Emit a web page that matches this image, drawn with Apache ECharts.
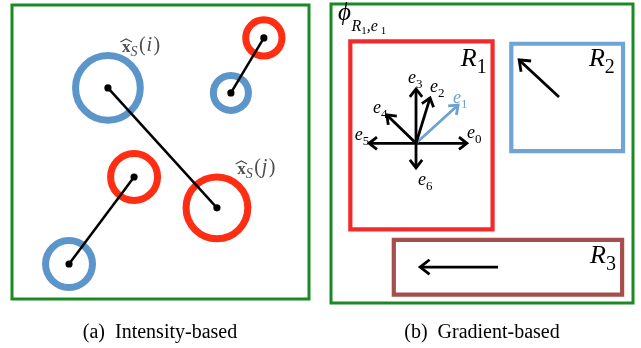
<!DOCTYPE html>
<html>
<head>
<meta charset="utf-8">
<script src="https://cdn.jsdelivr.net/npm/echarts@6/dist/echarts.min.js"></script>
<style>
  html, body { margin: 0; padding: 0; background: #fff; }
  #chart { width: 641px; height: 348px; }
</style>
</head>
<body>
<div id="chart"></div>
<script>
// ---------- panel (a): intensity-based point pairs (panel units 0-100, y downwards) ----------
const ringCenters = [[32.3, 28.2], [73.7, 29.9], [84.8, 11.2], [41.1, 58.5], [69.0, 69.0], [19.2, 88.1]];
const ringRadii   = [10.9, 5.9, 6.1, 7.9, 10.4, 7.9];
const ringKinds   = ['blue', 'blue', 'red', 'red', 'red', 'blue'];
const pointPairs  = [[0, 4], [3, 5], [1, 2]];          // indices into ringCenters
const pointLabelPos = [[37.0, 16.3], [75.8, 57.8]];    // left / baseline of each label
const pointLabelIdx = ['i', 'j'];

// ---------- panel (b): gradient-based regions ----------
const regionNames   = ['1', '2', '3'];
const regionBoxes   = [[6.4, 12.5, 53.5, 75.4], [59.7, 13.3, 96.7, 49.2], [20.8, 78.9, 96.4, 97.2]];
const regionKinds   = ['red', 'blue', 'brown'];
const regionLabelPos = [[43.0, 21.4], [85.4, 21.4], [85.8, 87.3]];
const binOrigin     = [28.15, 46.6];
const binTips       = [[45.0, 46.6], [42.1, 33.8], [32.8, 31.4], [28.15, 28.4], [18.5, 37.1], [12.6, 46.6], [28.15, 54.8]];
const binLabelPos   = [[45.0, 45.2], [40.4, 33.5], [32.8, 29.8], [25.5, 26.8], [13.9, 36.9], [7.9, 45.9], [28.8, 60.9]];
const selectedBin   = 1;
const regionGradients = [[75.5, 31.1, 62.3, 18.7], [55.3, 88.0, 29.5, 88.0]];   // dominant gradient of R2, R3
const featureLabelPos = [[2.3, 6.0]];

const captions = ['(a)  Intensity-based', '(b)  Gradient-based'];

// ---------- styling ----------
const SERIF = '"Liberation Serif","DejaVu Serif",serif';
const COLORS = {
  green: '#1b8a24', blue: '#5b95c9', red: '#ff2d12',
  boxRed: '#f22a2b', boxBlue: '#6ea4d6', brown: '#a44f4c',
  bin: '#000', binSel: '#6ea0d2', gray: '#4d4d4d'
};
const BOX_COLORS = { red: COLORS.boxRed, blue: COLORS.boxBlue, brown: COLORS.brown };

const mctx = document.createElement('canvas').getContext('2d');
function textWidth(str, font) { mctx.font = font; return mctx.measureText(str).width; }

// lay out a run of text pieces left-to-right from (x, baseline)
function runElements(x, base, pieces, color) {
  const els = [];
  let cx = x;
  pieces.forEach(p => {
    const st = p.it ? 'italic' : 'normal';
    const wt = p.b ? 'bold' : 'normal';
    const font = st + ' ' + wt + ' ' + p.fs + 'px ' + SERIF;
    cx += p.dx || 0;
    els.push({
      type: 'text', x: cx, y: base + (p.dy || 0) - 0.34 * p.fs,
      style: {
        text: p.t, fill: p.c || color, fontSize: p.fs, fontFamily: SERIF,
        fontStyle: st, fontWeight: wt, align: 'left', verticalAlign: 'middle'
      }
    });
    cx += textWidth(p.t, font) + (p.after || 0);
  });
  return els;
}

function arrowElements(p0, p1, color, lw, head) {
  const a = Math.atan2(p1[1] - p0[1], p1[0] - p0[0]);
  const th = Math.PI * 0.21;
  const l = [p1[0] - head * Math.cos(a - th), p1[1] - head * Math.sin(a - th)];
  const r = [p1[0] - head * Math.cos(a + th), p1[1] - head * Math.sin(a + th)];
  return [
    { type: 'line', shape: { x1: p0[0], y1: p0[1], x2: p1[0], y2: p1[1] },
      style: { stroke: color, lineWidth: lw } },
    { type: 'polyline', shape: { points: [l, p1, r] },
      style: { stroke: color, lineWidth: lw, fill: 'none', lineJoin: 'miter' } }
  ];
}

const chart = echarts.init(document.getElementById('chart'), null, { renderer: 'canvas' });

const panelAxis = idx => ({ type: 'value', gridIndex: idx, min: 0, max: 100, show: false });
const panelYAxis = idx => ({ type: 'value', gridIndex: idx, min: 0, max: 100, inverse: true, show: false });

const common = { type: 'custom', coordinateSystem: 'cartesian2d', clip: false, silent: true, animation: false };

chart.setOption({
  animation: false,
  grid: [
    { left: 12, top: 5, width: 297, height: 294, show: true, borderColor: COLORS.green, borderWidth: 3, backgroundColor: 'transparent' },
    { left: 331, top: 4, width: 302, height: 299, show: true, borderColor: COLORS.green, borderWidth: 3, backgroundColor: 'transparent' }
  ],
  xAxis: [panelAxis(0), panelAxis(1)],
  yAxis: [panelYAxis(0), panelYAxis(1)],
  graphic: captions.map((t, i) => ({
    type: 'text', x: i === 0 ? 160 : 482, y: 340 - 0.34 * 20,
    style: { text: t, fill: '#000', fontSize: 20, fontFamily: SERIF, align: 'center', verticalAlign: 'middle' }
  })),
  series: [
    // rings
    Object.assign({}, common, {
      xAxisIndex: 0, yAxisIndex: 0,
      data: ringCenters.map((c, i) => [c[0], c[1], ringRadii[i], i]),
      encode: { x: 0, y: 1 },
      renderItem: (params, api) => {
        const p = api.coord([api.value(0), api.value(1)]);
        const r = api.size([api.value(2), 0])[0];
        return { type: 'circle', shape: { cx: p[0], cy: p[1], r: r },
          style: { fill: 'none', stroke: COLORS[ringKinds[api.value(3)]], lineWidth: 7 } };
      }
    }),
    // matched pairs
    Object.assign({}, common, {
      xAxisIndex: 0, yAxisIndex: 0,
      data: pointPairs.map(([a, b]) => [ringCenters[a][0], ringCenters[a][1], ringCenters[b][0], ringCenters[b][1]]),
      encode: { x: [0, 2], y: [1, 3] },
      renderItem: (params, api) => {
        const p0 = api.coord([api.value(0), api.value(1)]);
        const p1 = api.coord([api.value(2), api.value(3)]);
        return { type: 'group', children: [
          { type: 'line', shape: { x1: p0[0], y1: p0[1], x2: p1[0], y2: p1[1] }, style: { stroke: '#000', lineWidth: 2.5 } },
          { type: 'circle', shape: { cx: p0[0], cy: p0[1], r: 3.6 }, style: { fill: '#000' } },
          { type: 'circle', shape: { cx: p1[0], cy: p1[1], r: 3.6 }, style: { fill: '#000' } }
        ] };
      }
    }),
    // x̂_S(i), x̂_S(j)
    Object.assign({}, common, {
      xAxisIndex: 0, yAxisIndex: 0,
      data: pointLabelPos,
      encode: { x: 0, y: 1 },
      renderItem: (params, api) => {
        const p = api.coord([api.value(0), api.value(1)]);
        const xw = textWidth('x', 'normal bold 17px ' + SERIF);
        const hatL = p[0] - 1.5, hatR = p[0] + xw + 1.5;
        const els = runElements(p[0], p[1], [
          { t: 'x', fs: 17, b: true },
          { t: 'S', fs: 14, it: true, dy: 4, after: 1.5 },
          { t: '(', fs: 20, after: 1 },
          { t: pointLabelIdx[params.dataIndex], fs: 20, it: true, after: 1.5 },
          { t: ')', fs: 20 }
        ], COLORS.gray);
        els.push({ type: 'polyline',
          shape: { points: [[hatL, p[1] - 11], [(hatL + hatR) / 2, p[1] - 14], [hatR, p[1] - 11]] },
          style: { stroke: COLORS.gray, lineWidth: 1.1, fill: 'none' } });
        return { type: 'group', children: els };
      }
    }),
    // region boxes
    Object.assign({}, common, {
      xAxisIndex: 1, yAxisIndex: 1,
      data: regionBoxes.map((b, i) => [b[0], b[1], b[2], b[3], i]),
      encode: { x: [0, 2], y: [1, 3] },
      renderItem: (params, api) => {
        const a = api.coord([api.value(0), api.value(1)]);
        const b = api.coord([api.value(2), api.value(3)]);
        return { type: 'rect', shape: { x: a[0], y: a[1], width: b[0] - a[0], height: b[1] - a[1] },
          style: { fill: 'none', stroke: BOX_COLORS[regionKinds[api.value(4)]], lineWidth: 4.2 } };
      }
    }),
    // orientation bins in R1
    Object.assign({}, common, {
      xAxisIndex: 1, yAxisIndex: 1,
      data: binTips.map(t => [binOrigin[0], binOrigin[1], t[0], t[1]]),
      encode: { x: [0, 2], y: [1, 3] },
      renderItem: (params, api) => {
        const p0 = api.coord([api.value(0), api.value(1)]);
        const p1 = api.coord([api.value(2), api.value(3)]);
        const col = params.dataIndex === selectedBin ? COLORS.binSel : COLORS.bin;
        return { type: 'group', children: arrowElements(p0, p1, col, 2.8, 10) };
      }
    }),
    // dominant gradients of R2, R3
    Object.assign({}, common, {
      xAxisIndex: 1, yAxisIndex: 1,
      data: regionGradients,
      encode: { x: [0, 2], y: [1, 3] },
      renderItem: (params, api) => {
        const p0 = api.coord([api.value(0), api.value(1)]);
        const p1 = api.coord([api.value(2), api.value(3)]);
        return { type: 'group', children: arrowElements(p0, p1, '#000', 2.8, 12) };
      }
    }),
    // e_k labels
    Object.assign({}, common, {
      xAxisIndex: 1, yAxisIndex: 1,
      data: binLabelPos,
      encode: { x: 0, y: 1 },
      renderItem: (params, api) => {
        const p = api.coord([api.value(0), api.value(1)]);
        const col = params.dataIndex === selectedBin ? COLORS.binSel : '#000';
        return { type: 'group', children: runElements(p[0], p[1], [
          { t: 'e', fs: 18, it: true },
          { t: String(params.dataIndex), fs: 13, dy: 4.5 }
        ], col) };
      }
    }),
    // R_k labels
    Object.assign({}, common, {
      xAxisIndex: 1, yAxisIndex: 1,
      data: regionLabelPos,
      encode: { x: 0, y: 1 },
      renderItem: (params, api) => {
        const p = api.coord([api.value(0), api.value(1)]);
        return { type: 'group', children: runElements(p[0], p[1], [
          { t: 'R', fs: 26, it: true },
          { t: regionNames[params.dataIndex], fs: 20, dy: 7 }
        ], '#000') };
      }
    }),
    // feature label ϕ_{R1,e1}
    Object.assign({}, common, {
      xAxisIndex: 1, yAxisIndex: 1,
      data: featureLabelPos,
      encode: { x: 0, y: 1 },
      renderItem: (params, api) => {
        const p = api.coord([api.value(0), api.value(1)]);
        return { type: 'group', children: runElements(p[0], p[1], [
          { t: 'ϕ', fs: 25, it: true, after: 0.5 },
          { t: 'R', fs: 16, it: true, dy: 10 },
          { t: '1', fs: 11, dy: 13 },
          { t: ',e', fs: 16, it: true, dy: 10, after: 3 },
          { t: '1', fs: 11, dy: 13 }
        ], '#000') };
      }
    })
  ]
});
</script>
</body>
</html>
